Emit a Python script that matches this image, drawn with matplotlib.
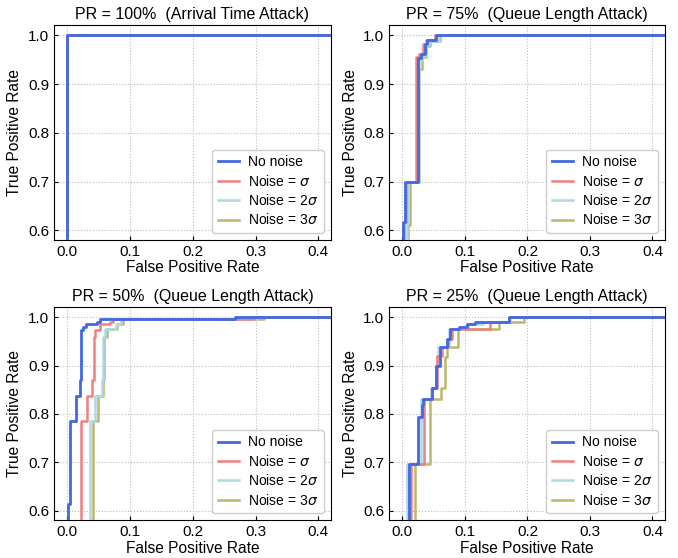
import matplotlib
matplotlib.use("Agg")
import matplotlib.pyplot as plt

plt.rcParams["font.family"] = ["Liberation Sans", "DejaVu Sans"]

labels = ["No noise", r"Noise = $\sigma$", r"Noise = 2$\sigma$", r"Noise = 3$\sigma$"]
colors = ["#4169E1", "#F08080", "#ADD8E6", "#BDB76B"]
titles = [
    "PR = 100%  (Arrival Time Attack)",
    "PR = 75%  (Queue Length Attack)",
    "PR = 50%  (Queue Length Attack)",
    "PR = 25%  (Queue Length Attack)",
]

# PR = 100%: perfect detection for every noise level
fpr_100 = [[0.0, 0.0, 1.0]] * 4
tpr_100 = [[0.0, 1.0, 1.0]] * 4

# PR = 75%
fpr_75 = [
    [0.001, 0.001, 0.004, 0.0248, 0.030, 0.0355, 0.0396, 0.054, 1.0],
    [0.003, 0.003, 0.005, 0.022, 0.027, 0.033, 0.038, 0.052, 1.0],
    [0.0075, 0.0075, 0.009, 0.0265, 0.031, 0.037, 0.042, 0.058, 1.0],
    [0.0085, 0.0085, 0.0116, 0.027, 0.032, 0.038, 0.044, 0.0606, 1.0],
]
tpr_75 = [
    [0.0, 0.617, 0.70, 0.954, 0.961, 0.982, 0.99, 1.0, 1.0],
    [0.0, 0.617, 0.70, 0.956, 0.962, 0.983, 0.99, 1.0, 1.0],
    [0.0, 0.615, 0.70, 0.95, 0.958, 0.98, 0.988, 1.0, 1.0],
    [0.0, 0.61, 0.70, 0.93, 0.955, 0.978, 0.988, 1.0, 1.0],
]

# PR = 50%
fpr_50 = [
    [0.002, 0.002, 0.0043, 0.0134, 0.0198, 0.022, 0.0256, 0.030, 0.048, 0.053, 0.267, 1.0],
    [0.0224, 0.0224, 0.032, 0.040, 0.043, 0.045, 0.052, 0.068, 0.073, 0.297, 1.0],
    [0.036, 0.036, 0.044, 0.055, 0.0575, 0.060, 0.078, 0.085, 0.30, 1.0],
    [0.0405, 0.0405, 0.0485, 0.0575, 0.059, 0.063, 0.080, 0.0895, 0.3126, 1.0],
]
tpr_50 = [
    [0.0, 0.613, 0.785, 0.838, 0.870, 0.973, 0.98, 0.985, 0.99, 0.9955, 1.0, 1.0],
    [0.0, 0.785, 0.838, 0.870, 0.959, 0.973, 0.985, 0.99, 0.9955, 1.0, 1.0],
    [0.0, 0.785, 0.838, 0.870, 0.96, 0.975, 0.985, 0.9955, 1.0, 1.0],
    [0.0, 0.785, 0.838, 0.870, 0.96, 0.975, 0.985, 0.9955, 1.0, 1.0],
]

# PR = 25%
fpr_25 = [
    [0.010, 0.010, 0.025, 0.0313, 0.033, 0.047, 0.054, 0.0595, 0.071, 0.0765, 0.0897, 0.103, 0.116, 0.171, 1.0],
    [0.0139, 0.0139, 0.034, 0.048, 0.056, 0.063, 0.073, 0.080, 0.140, 0.170, 1.0],
    [0.008, 0.008, 0.030, 0.045, 0.055, 0.057, 0.075, 0.105, 0.1286, 0.172, 1.0],
    [0.0207, 0.0207, 0.0446, 0.0617, 0.0685, 0.072, 0.0887, 0.155, 0.195, 1.0],
]
tpr_25 = [
    [0.0, 0.697, 0.794, 0.819, 0.831, 0.854, 0.899, 0.939, 0.954, 0.975, 0.9796, 0.985, 0.9898, 1.0, 1.0],
    [0.0, 0.697, 0.831, 0.854, 0.92, 0.939, 0.954, 0.975, 0.99, 1.0, 1.0],
    [0.0, 0.697, 0.831, 0.854, 0.92, 0.939, 0.975, 0.985, 0.99, 1.0, 1.0],
    [0.0, 0.697, 0.831, 0.854, 0.917, 0.939, 0.975, 0.99, 1.0, 1.0],
]

panels = [(fpr_100, tpr_100), (fpr_75, tpr_75), (fpr_50, tpr_50), (fpr_25, tpr_25)]
positions = [
    [0.0796, 0.5699, 0.4086, 0.386],
    [0.5742, 0.5699, 0.4066, 0.386],
    [0.0796, 0.0676, 0.4086, 0.383],
    [0.5742, 0.0676, 0.4066, 0.383],
]

fig = plt.figure(figsize=(6.78, 5.58), dpi=100)
for (fprs, tprs), title, pos in zip(panels, titles, positions):
    ax = fig.add_axes(pos)
    for k in range(4):
        ax.plot(fprs[k], tprs[k], drawstyle="steps-post", color=colors[k],
                lw=2.0 if k == 0 else 1.8, label=labels[k], zorder=10 - k)
    ax.set_xlim(-0.021, 0.42)
    ax.set_ylim(0.58, 1.022)
    ax.set_xticks([0.0, 0.1, 0.2, 0.3, 0.4])
    ax.set_yticks([0.6, 0.7, 0.8, 0.9, 1.0])
    ax.grid(True, linestyle=":", color="#bbbbbb", lw=0.8)
    ax.tick_params(direction="in", labelsize=11, length=3)
    ax.set_title(title, fontsize=11.5, pad=4)
    ax.set_xlabel("False Positive Rate", fontsize=11.2, labelpad=1)
    ax.set_ylabel("True Positive Rate", fontsize=11.2, labelpad=4)
    ax.legend(loc="lower right", fontsize=10, frameon=True, fancybox=True,
              edgecolor="#cccccc", framealpha=1.0, borderpad=0.4, labelspacing=0.32,
              handlelength=1.5, handletextpad=0.7)

fig.savefig("out.png", dpi=100)
